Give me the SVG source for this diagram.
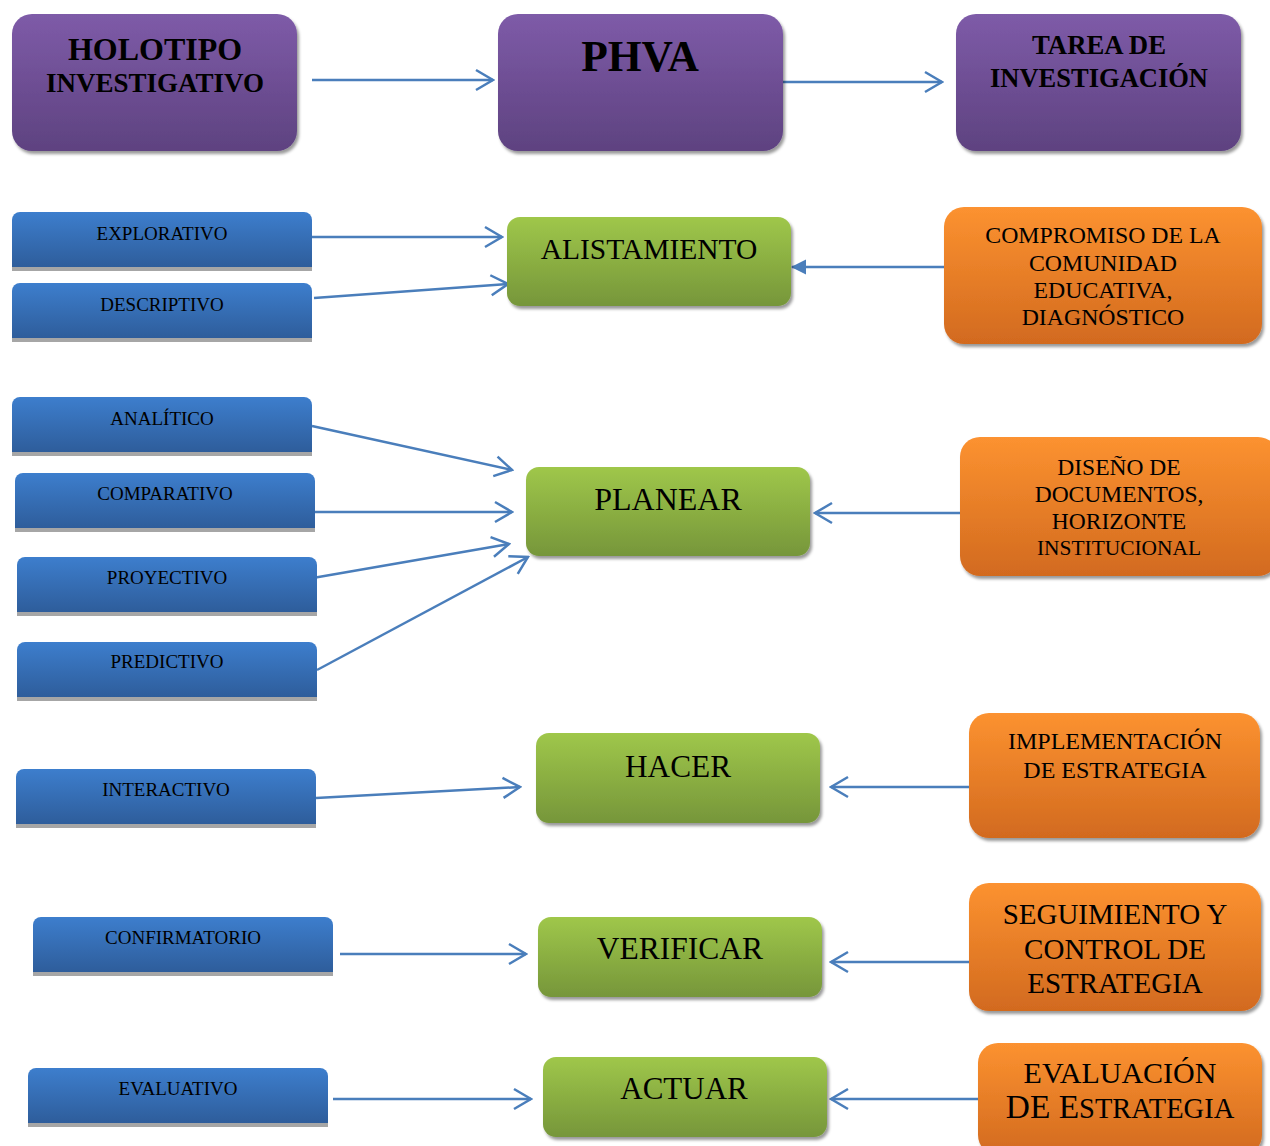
<svg xmlns="http://www.w3.org/2000/svg" width="1270" height="1146" viewBox="0 0 1270 1146">
<style>
.t{font-family:"Liberation Serif","Times New Roman",serif;fill:#000;text-anchor:middle}
.b{font-weight:bold}
.s{font-size:19px}
.c{fill:none;stroke:#4a7ebb;stroke-width:2.5}
.o{marker-end:url(#open)}
.f{marker-end:url(#fill)}
.sh{fill:#a6a6a6}
</style>
<defs>
<linearGradient id="gP" x1="0" y1="0" x2="0" y2="1"><stop offset="0" stop-color="#7e5ba8"/><stop offset="1" stop-color="#5e4280"/></linearGradient>
<linearGradient id="gG" x1="0" y1="0" x2="0" y2="1"><stop offset="0" stop-color="#9fc74a"/><stop offset="1" stop-color="#76963a"/></linearGradient>
<linearGradient id="gO" x1="0" y1="0" x2="0" y2="1"><stop offset="0" stop-color="#fc9230"/><stop offset="1" stop-color="#d26a1f"/></linearGradient>
<linearGradient id="gB" x1="0" y1="0" x2="0" y2="1"><stop offset="0" stop-color="#3d7ecd"/><stop offset="1" stop-color="#2e5d9b"/></linearGradient>
<filter id="ds" x="-5%" y="-5%" width="115%" height="120%"><feDropShadow dx="2" dy="3" stdDeviation="1.5" flood-color="#000" flood-opacity="0.4"/></filter>
<marker id="open" viewBox="0 0 20 24" refX="18" refY="12" markerWidth="20" markerHeight="24" markerUnits="userSpaceOnUse" orient="auto"><path d="M1,2 L18,12 L1,22" fill="none" stroke="#4a7ebb" stroke-width="2.5"/></marker>
<marker id="fill" viewBox="0 0 15 16" refX="14" refY="8" markerWidth="15" markerHeight="16" markerUnits="userSpaceOnUse" orient="auto"><path d="M0,0.5 L15,8 L0,15.5 Z" fill="#4a7ebb"/></marker>
</defs>

<g id="connectors">
<line class="c o" x1="312" y1="80" x2="493" y2="80"/>
<line class="c o" x1="783" y1="82" x2="942" y2="82"/>
<line class="c o" x1="312" y1="237" x2="502" y2="237"/>
<line class="c o" x1="314" y1="298" x2="508" y2="284"/>
<line class="c f" x1="944" y1="267" x2="792" y2="267"/>
<line class="c o" x1="312" y1="426" x2="512" y2="470"/>
<line class="c o" x1="315" y1="512" x2="512" y2="512"/>
<line class="c o" x1="307" y1="579" x2="509" y2="544"/>
<line class="c o" x1="317" y1="670" x2="528" y2="557"/>
<line class="c o" x1="964" y1="513" x2="815" y2="513"/>
<line class="c o" x1="316" y1="798" x2="520" y2="787"/>
<line class="c o" x1="980" y1="787" x2="831" y2="787"/>
<line class="c o" x1="340" y1="954" x2="526" y2="954"/>
<line class="c o" x1="969" y1="962" x2="831" y2="962"/>
<line class="c o" x1="333" y1="1099" x2="531" y2="1099"/>
<line class="c o" x1="979" y1="1099" x2="831" y2="1099"/>
</g>

<g id="holotipo"><rect x="12" y="14" width="285" height="137" rx="20" fill="url(#gP)" filter="url(#ds)"/>
<text class="t b" x="155" y="60" font-size="32">HOLOTIPO</text>
<text class="t b" x="155" y="92" font-size="27">INVESTIGATIVO</text></g>
<g id="phva"><rect x="498" y="14" width="285" height="137" rx="20" fill="url(#gP)" filter="url(#ds)"/>
<text class="t b" x="640" y="71" font-size="43.5">PHVA</text></g>
<g id="tarea"><rect x="956" y="14" width="285" height="137" rx="20" fill="url(#gP)" filter="url(#ds)"/>
<text class="t b" x="1099" y="54" font-size="27" textLength="134" lengthAdjust="spacingAndGlyphs">TAREA DE</text>
<text class="t b" x="1099" y="87" font-size="27" textLength="218" lengthAdjust="spacingAndGlyphs">INVESTIGACIÓN</text></g>

<g id="explorativo"><rect class="sh" x="12" y="266" width="300" height="5"/><path d="M12,267 V220 A8,8 0 0 1 20,212 H304 A8,8 0 0 1 312,220 V267 Z" fill="url(#gB)"/>
<text class="t s" x="162" y="240">EXPLORATIVO</text></g>
<g id="descriptivo"><rect class="sh" x="12" y="337" width="300" height="5"/><path d="M12,338 V291 A8,8 0 0 1 20,283 H304 A8,8 0 0 1 312,291 V338 Z" fill="url(#gB)"/>
<text class="t s" x="162" y="311">DESCRIPTIVO</text></g>
<g id="analitico"><rect class="sh" x="12" y="451" width="300" height="5"/><path d="M12,452 V405 A8,8 0 0 1 20,397 H304 A8,8 0 0 1 312,405 V452 Z" fill="url(#gB)"/>
<text class="t s" x="162" y="425">ANALÍTICO</text></g>
<g id="comparativo"><rect class="sh" x="15" y="527" width="300" height="5"/><path d="M15,528 V481 A8,8 0 0 1 23,473 H307 A8,8 0 0 1 315,481 V528 Z" fill="url(#gB)"/>
<text class="t s" x="165" y="500">COMPARATIVO</text></g>
<g id="proyectivo"><rect class="sh" x="17" y="611" width="300" height="5"/><path d="M17,612 V565 A8,8 0 0 1 25,557 H309 A8,8 0 0 1 317,565 V612 Z" fill="url(#gB)"/>
<text class="t s" x="167" y="584">PROYECTIVO</text></g>
<g id="predictivo"><rect class="sh" x="17" y="696" width="300" height="5"/><path d="M17,697 V650 A8,8 0 0 1 25,642 H309 A8,8 0 0 1 317,650 V697 Z" fill="url(#gB)"/>
<text class="t s" x="167" y="668">PREDICTIVO</text></g>
<g id="interactivo"><rect class="sh" x="16" y="823" width="300" height="5"/><path d="M16,824 V777 A8,8 0 0 1 24,769 H308 A8,8 0 0 1 316,777 V824 Z" fill="url(#gB)"/>
<text class="t s" x="166" y="796">INTERACTIVO</text></g>
<g id="confirmatorio"><rect class="sh" x="33" y="971" width="300" height="5"/><path d="M33,972 V925 A8,8 0 0 1 41,917 H325 A8,8 0 0 1 333,925 V972 Z" fill="url(#gB)"/>
<text class="t s" x="183" y="944">CONFIRMATORIO</text></g>
<g id="evaluativo"><rect class="sh" x="28" y="1122" width="300" height="5"/><path d="M28,1123 V1076 A8,8 0 0 1 36,1068 H320 A8,8 0 0 1 328,1076 V1123 Z" fill="url(#gB)"/>
<text class="t s" x="178" y="1095">EVALUATIVO</text></g>

<g id="alistamiento"><rect x="507" y="217" width="284" height="89" rx="13" fill="url(#gG)" filter="url(#ds)"/>
<text class="t" x="649" y="259" font-size="29.5">ALISTAMIENTO</text></g>
<g id="planear"><rect x="526" y="467" width="284" height="89" rx="13" fill="url(#gG)" filter="url(#ds)"/>
<text class="t" x="668" y="510" font-size="32">PLANEAR</text></g>
<g id="hacer"><rect x="536" y="733" width="284" height="90" rx="13" fill="url(#gG)" filter="url(#ds)"/>
<text class="t" x="678" y="777" font-size="31.3">HACER</text></g>
<g id="verificar"><rect x="538" y="917" width="284" height="80" rx="13" fill="url(#gG)" filter="url(#ds)"/>
<text class="t" x="680" y="959" font-size="31.5">VERIFICAR</text></g>
<g id="actuar"><rect x="543" y="1057" width="284" height="80" rx="13" fill="url(#gG)" filter="url(#ds)"/>
<text class="t" x="684" y="1099" font-size="31">ACTUAR</text></g>

<g id="compromiso"><rect x="944" y="207" width="318" height="137" rx="20" fill="url(#gO)" filter="url(#ds)"/>
<text class="t" x="1103" y="243" font-size="23.8">COMPROMISO DE LA</text>
<text class="t" x="1103" y="271" font-size="23.8">COMUNIDAD</text>
<text class="t" x="1103" y="298" font-size="23.8">EDUCATIVA,</text>
<text class="t" x="1103" y="325" font-size="23.8">DIAGNÓSTICO</text></g>
<g id="diseno"><rect x="960" y="437" width="318" height="139" rx="20" fill="url(#gO)" filter="url(#ds)"/>
<text class="t" x="1119" y="475" font-size="23.5">DISEÑO DE</text>
<text class="t" x="1119" y="502" font-size="23.5">DOCUMENTOS,</text>
<text class="t" x="1119" y="529" font-size="23.5">HORIZONTE</text>
<text class="t" x="1119" y="555" font-size="21.4">INSTITUCIONAL</text></g>
<g id="implementacion"><rect x="969" y="713" width="291" height="125" rx="20" fill="url(#gO)" filter="url(#ds)"/>
<text class="t" x="1115" y="749" font-size="24">IMPLEMENTACIÓN</text>
<text class="t" x="1115" y="778" font-size="24">DE ESTRATEGIA</text></g>
<g id="seguimiento"><rect x="969" y="883" width="292" height="128" rx="20" fill="url(#gO)" filter="url(#ds)"/>
<text class="t" x="1115" y="924" font-size="29">SEGUIMIENTO Y</text>
<text class="t" x="1115" y="959" font-size="29">CONTROL DE</text>
<text class="t" x="1115" y="993" font-size="29">ESTRATEGIA</text></g>
<g id="evaluacion"><rect x="978" y="1043" width="284" height="112" rx="20" fill="url(#gO)" filter="url(#ds)"/>
<text class="t" x="1120" y="1083" font-size="30">EVALUACIÓN</text>
<text class="t" x="1120" y="1118" font-size="33.4">DE E<tspan font-size="28.5">STRATEGIA</tspan></text></g>
</svg>
